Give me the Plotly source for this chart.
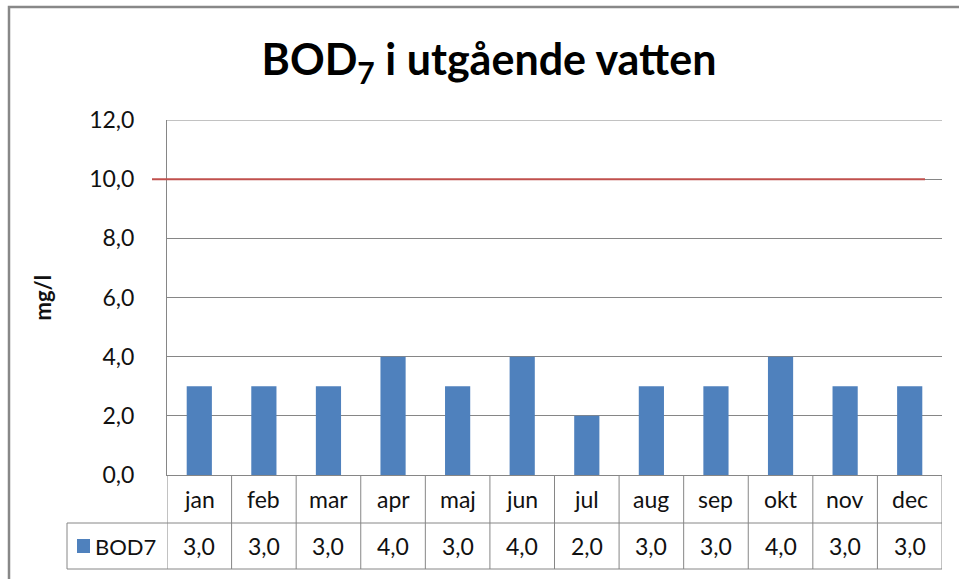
import plotly.graph_objects as go

categories = ["jan", "feb", "mar", "apr", "maj", "jun", "jul", "aug", "sep", "okt", "nov", "dec"]
values = [3.0, 3.0, 3.0, 4.0, 3.0, 4.0, 2.0, 3.0, 3.0, 4.0, 3.0, 3.0]
limit_value = 10.0
series_name = "BOD7"
y_ticks = [0, 2, 4, 6, 8, 10, 12]

W, H = 959, 579
L, R, T, B = 167, 942, 120, 475
pw, ph = R - L, B - T


def px_x(p):
    return (p - L) / pw


def px_y(p):
    return (B - p) / ph


BAR = "#4F81BD"
RED = "#C0504D"
GRID = "#868686"
FONT = "Lato"
TXT = "#111111"

fig = go.Figure()
fig.add_trace(go.Bar(x=categories, y=values, name=series_name, marker=dict(color=BAR, line=dict(width=0)),
                     showlegend=False))

shapes = []
# top gridline (at the edge of the axis range)
shapes.append(dict(type="line", xref="paper", yref="y", x0=0, x1=1, y0=max(y_ticks), y1=max(y_ticks),
                   line=dict(color=GRID, width=1), layer="below"))
# limit line
shapes.append(dict(type="line", xref="paper", yref="y", x0=px_x(152), x1=px_x(925), y0=limit_value, y1=limit_value,
                   line=dict(color=RED, width=2)))

row1 = px_y(523)
row2 = px_y(569)
tl = dict(color=GRID, width=1)
# data table grid
for i in range(len(categories) + 1):
    shapes.append(dict(type="line", xref="x", yref="paper", x0=i - 0.5, x1=i - 0.5, y0=0, y1=row2, line=tl, layer="below"))
shapes.append(dict(type="line", xref="paper", yref="paper", x0=px_x(67), x1=1, y0=row1, y1=row1, line=tl))
shapes.append(dict(type="line", xref="paper", yref="paper", x0=px_x(67), x1=1, y0=row2, y1=row2, line=tl))
shapes.append(dict(type="line", xref="paper", yref="paper", x0=px_x(67), x1=px_x(67), y0=row1, y1=row2, line=tl))
# legend swatch
shapes.append(dict(type="rect", xref="paper", yref="paper", x0=px_x(77), x1=px_x(90), y0=px_y(539), y1=px_y(553),
                   fillcolor=BAR, line=dict(width=0)))
# outer chart border
shapes.append(dict(type="rect", xref="paper", yref="paper", x0=px_x(9), x1=px_x(1000), y0=px_y(7), y1=px_y(620),
                   line=dict(color="#888888", width=2.5), fillcolor="rgba(0,0,0,0)"))

annotations = []
for c, v in zip(categories, values):
    annotations.append(dict(x=c, y=(0 + row1) / 2, xref="x", yref="paper", text=c, showarrow=False,
                            xanchor="center", yanchor="middle",
                            font=dict(family=FONT, size=23, color=TXT)))
    annotations.append(dict(x=c, y=(row1 + row2) / 2, xref="x", yref="paper",
                            text=f"{v:.1f}".replace(".", ","), showarrow=False,
                            xanchor="center", yanchor="middle",
                            font=dict(family=FONT, size=23, color=TXT)))
annotations.append(dict(x=px_x(93), y=(row1 + row2) / 2, xref="paper", yref="paper", text=series_name,
                        xanchor="left", yanchor="middle", showarrow=False,
                        font=dict(family=FONT, size=22, color=TXT)))
annotations.append(dict(x=px_x(42), y=0.5, xref="paper", yref="paper", text="<b>mg/l</b>", textangle=-90,
                        xanchor="center", yanchor="middle", showarrow=False,
                        font=dict(family=FONT, size=22, color=TXT)))

fig.update_layout(
    width=W, height=H,
    margin=dict(l=L, r=W - R, t=T, b=H - B),
    paper_bgcolor="white", plot_bgcolor="white",
    separators=",.",
    bargap=0.61,
    title=dict(text="<b>BOD<sub>7</sub> i utgående vatten</b>", x=489 / W, xanchor="center", y=1 - 60 / H,
               yanchor="middle", font=dict(family=FONT, size=43, color="#000000")),
    xaxis=dict(type="category", range=[-0.5, len(categories) - 0.5], showticklabels=False, showgrid=False,
               showline=True, linecolor=GRID, linewidth=1, ticks="", zeroline=False),
    yaxis=dict(range=[0, 12], tickvals=y_ticks, tickformat=".1f", showgrid=True, gridcolor=GRID, gridwidth=1,
               showline=True, linecolor=GRID, linewidth=1, zeroline=False, ticks="",
               ticklabelstandoff=27, tickfont=dict(family=FONT, size=23, color=TXT)),
    shapes=shapes,
    annotations=annotations,
)

fig.write_html("out.html", config={"displayModeBar": False},
               post_script="document.body.style.margin='0';")
